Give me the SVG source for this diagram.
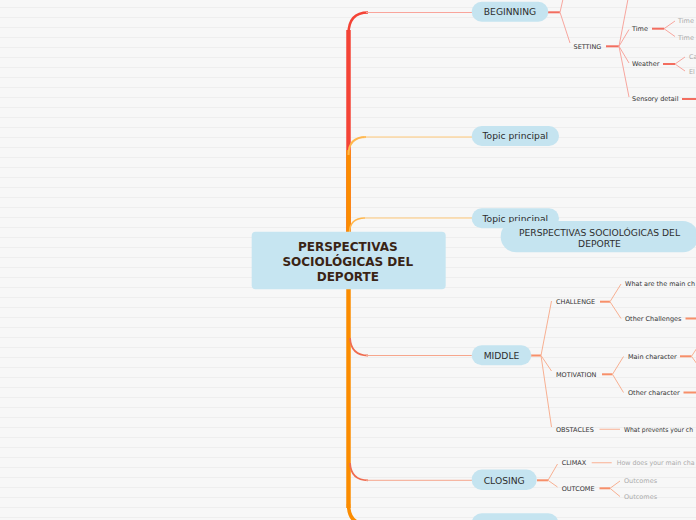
<svg xmlns="http://www.w3.org/2000/svg" width="696" height="520" viewBox="0 0 696 520">
<defs>
<pattern id="stripes" width="696" height="10" patternUnits="userSpaceOnUse">
<rect width="696" height="10" fill="#f7f7f7"/>
<rect y="7" width="696" height="1" fill="#eeeeee"/>
</pattern>
<style>
.pill{fill:#c5e4f0}
.lbl{font-family:"DejaVu Sans",Verdana,sans-serif;font-size:9.2px;fill:#2d2d2d;text-anchor:middle}
.sm{font-family:"DejaVu Sans",Verdana,sans-serif;font-size:6.5px;fill:#333333}
.gr{fill:#ababab}
.ctr{font-family:"DejaVu Sans",Verdana,sans-serif;font-weight:bold;font-size:12px;fill:#3a2415;text-anchor:middle}
.tb{fill:none;stroke:#f7a69e;stroke-width:1}
.tbk{fill:none;stroke:#f36d5f;stroke-width:2}
.tm{fill:none;stroke:#f8b092;stroke-width:1}
.tmk{fill:none;stroke:#f78f69;stroke-width:2}
.tl{fill:none;stroke:#f9bba3;stroke-width:1.2}
</style>
</defs>
<rect width="696" height="520" fill="url(#stripes)"/>

<g id="connectors">
  <path d="M348.5 262 V30" fill="none" stroke="#f44336" stroke-width="4.5"/>
  <path d="M348.5 34 Q348.5 12.5 368 12.5" fill="none" stroke="#f44336" stroke-width="2.5"/>
  <path d="M366 12.5 H472" fill="none" stroke="#f9a49b" stroke-width="1"/>
  <path d="M348.5 150 V508" fill="none" stroke="#fb8c00" stroke-width="4.5"/>
  <path d="M348.5 155 Q348.5 137 366 137" fill="none" stroke="#ffb74d" stroke-width="2"/>
  <path d="M364 137 H472" fill="none" stroke="#ffc878" stroke-width="1"/>
  <path d="M349.5 233 Q349.5 218 365 218" fill="none" stroke="#ffb74d" stroke-width="1.6"/>
  <path d="M363 218 H472" fill="none" stroke="#ffc878" stroke-width="1"/>
  <path d="M348.5 504 Q348.5 524 366 524" fill="none" stroke="#fb8c00" stroke-width="3.5"/>
  <path d="M350 338 Q351 355.5 368 355.5" fill="none" stroke="#ef6c50" stroke-width="1.8"/>
  <path d="M366 355.5 H472" fill="none" stroke="#f6a68c" stroke-width="1"/>
  <path d="M350 463 Q351 480.3 368 480.3" fill="none" stroke="#ef6c50" stroke-width="1.8"/>
  <path d="M366 480.3 H472" fill="none" stroke="#f6a68c" stroke-width="1"/>

  <path class="tbk" d="M548 12.3 H560"/>
  <path class="tb" d="M560 12.3 L563 -1 M560 12.3 L570 43"/>
  <path class="tbk" d="M606 46.3 H619"/>
  <path class="tb" d="M619 46.3 L628 -1 M619 46.3 L629 29.5 M619 46.3 L629 63 M619 46.3 L629 97"/>
  <path class="tbk" d="M652 28.7 H664"/>
  <path class="tb" d="M664 28.7 L675 21 M664 28.7 L675 36.5"/>
  <path class="tbk" d="M663 64 H675"/>
  <path class="tb" d="M675 64 L685 57 M675 64 L685 71"/>
  <path class="tbk" d="M682 99 H696"/>

  <path class="tmk" d="M531 355.5 H541"/>
  <path class="tm" d="M541 355.5 L551.5 301 M541 355.5 L551.5 371 M541 355.5 L551.5 427"/>
  <path class="tmk" d="M600 301.7 H610"/>
  <path class="tm" d="M610 301.7 L621 284 M610 301.7 L621 318.5"/>
  <path class="tmk" d="M685.5 318.5 H696"/>
  <path class="tmk" d="M602 374.3 H612.5"/>
  <path class="tm" d="M612.5 374.3 L623.5 356.5 M612.5 374.3 L623.5 392.5"/>
  <path class="tmk" d="M680 356.3 H691.5"/>
  <path class="tm" d="M691.5 356.3 L697 348 M691.5 356.3 L697 364"/>
  <path class="tmk" d="M683.5 392.5 H696"/>
  <path class="tl" d="M599.5 429.3 H620"/>

  <path class="tmk" d="M537 480.3 H548"/>
  <path class="tm" d="M548 480.3 L557.5 464 M548 480.3 L557.5 487"/>
  <path class="tl" d="M591.7 462.7 H611.7"/>
  <path class="tmk" d="M599.5 488.3 H610"/>
  <path class="tm" d="M610 488.3 L620 481 M610 488.3 L620 496.5"/>
</g>

<g id="center">
  <rect x="251.7" y="231.7" width="194" height="57.6" rx="4" fill="#c6e5f1"/>
  <text class="ctr" x="347.8" y="251.3">PERSPECTIVAS</text>
  <text class="ctr" x="347.8" y="266">SOCIOLÓGICAS DEL</text>
  <text class="ctr" x="347.8" y="280.7">DEPORTE</text>
</g>

<g id="beginning">
  <rect class="pill" x="471.7" y="1.7" width="76.6" height="20" rx="10"/>
  <text class="lbl" x="510" y="15.3">BEGINNING</text>
</g>
<g id="setting"><text class="sm" x="573.5" y="48.7">SETTING</text></g>
<g id="time"><text class="sm" x="632" y="30.6">Time</text></g>
<g id="time-1"><text class="sm gr" x="678" y="22.6">Time</text></g>
<g id="time-2"><text class="sm gr" x="678" y="39.6">Time</text></g>
<g id="weather"><text class="sm" x="632" y="66.3">Weather</text></g>
<g id="weather-1"><text class="sm gr" x="689" y="58.6">Ca</text></g>
<g id="weather-2"><text class="sm gr" x="689" y="74.3">El</text></g>
<g id="sensory"><text class="sm" x="632" y="101.3">Sensory detail</text></g>

<g id="topic1">
  <rect class="pill" x="471.7" y="126" width="87.3" height="20" rx="10"/>
  <text class="lbl" x="515.3" y="139.3">Topic principal</text>
</g>
<g id="topic2">
  <rect class="pill" x="471.7" y="208.3" width="87.3" height="20" rx="10"/>
  <text class="lbl" x="515.3" y="221.6">Topic principal</text>
</g>
<g id="floating">
  <rect class="pill" x="500.7" y="221" width="197.6" height="31.3" rx="15.6"/>
  <text class="lbl" x="599.5" y="236">PERSPECTIVAS SOCIOLÓGICAS DEL</text>
  <text class="lbl" x="599.5" y="246.6">DEPORTE</text>
</g>

<g id="middle">
  <rect class="pill" x="471.7" y="345.3" width="59.6" height="20" rx="10"/>
  <text class="lbl" x="501.5" y="358.8">MIDDLE</text>
</g>
<g id="challenge"><text class="sm" x="556" y="304">CHALLENGE</text></g>
<g id="challenge-1"><text class="sm" x="625" y="286" textLength="70" lengthAdjust="spacingAndGlyphs">What are the main ch</text></g>
<g id="challenge-2"><text class="sm" x="625" y="320.7">Other Challenges</text></g>
<g id="motivation"><text class="sm" x="556" y="376.7">MOTIVATION</text></g>
<g id="motivation-1"><text class="sm" x="628" y="358.6">Main character</text></g>
<g id="motivation-2"><text class="sm" x="628" y="395">Other character</text></g>
<g id="obstacles"><text class="sm" x="556" y="431.7">OBSTACLES</text></g>
<g id="obstacles-1"><text class="sm" x="624" y="431.7" textLength="69" lengthAdjust="spacingAndGlyphs">What prevents your ch</text></g>

<g id="closing">
  <rect class="pill" x="471.7" y="469.5" width="65" height="20.5" rx="10"/>
  <text class="lbl" x="504.2" y="483.6">CLOSING</text>
</g>
<g id="climax"><text class="sm" x="561.7" y="465">CLIMAX</text></g>
<g id="climax-1"><text class="sm gr" x="616.7" y="465" textLength="78" lengthAdjust="spacingAndGlyphs">How does your main cha</text></g>
<g id="outcome"><text class="sm" x="561.7" y="490.6">OUTCOME</text></g>
<g id="outcome-1"><text class="sm gr" x="624" y="483">Outcomes</text></g>
<g id="outcome-2"><text class="sm gr" x="624" y="499">Outcomes</text></g>

<g id="bottom-node">
  <rect class="pill" x="471.7" y="513.3" width="86.6" height="20" rx="10"/>
</g>
</svg>
